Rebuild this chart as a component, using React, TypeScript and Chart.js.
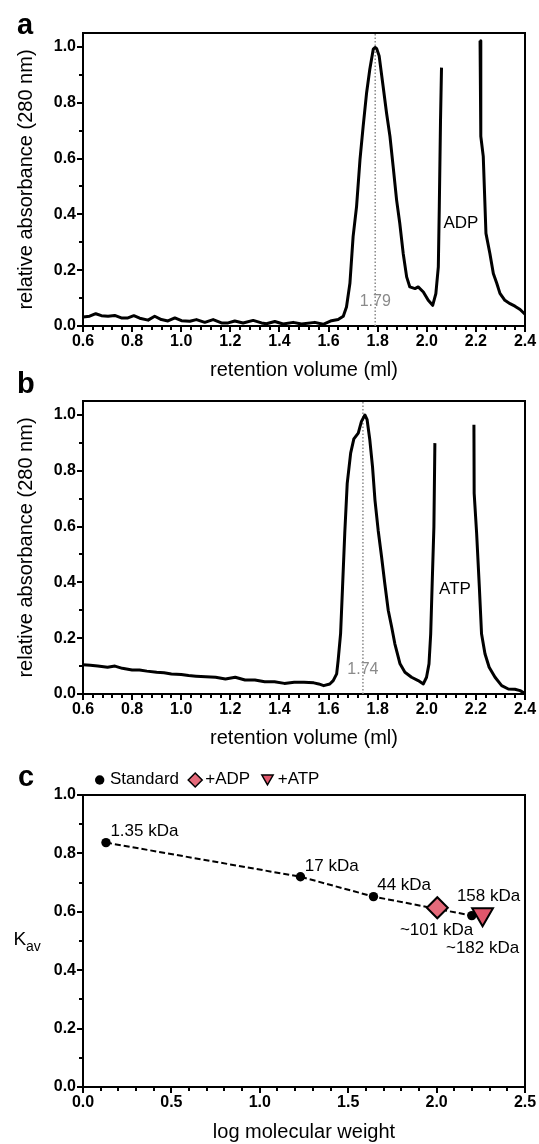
import React, { useEffect, useRef } from "react";
import { Chart, registerables } from "chart.js";

Chart.register(...registerables);

const FONT = "'Liberation Sans', Arial, Helvetica, sans-serif";

// ---------------- Panel a : chromatogram with ADP ----------------
const A_VOLUME = [
  0.6, 0.627, 0.652, 0.675, 0.702, 0.729, 0.756, 0.783, 0.807, 0.831,
  0.865, 0.892, 0.919, 0.946, 0.974, 1.001, 1.035, 1.062, 1.096, 1.13,
  1.164, 1.191, 1.218, 1.252, 1.293, 1.327, 1.347, 1.381, 1.415, 1.456,
  1.49, 1.544, 1.578, 1.612, 1.639, 1.66, 1.673, 1.687, 1.7, 1.714,
  1.728, 1.741, 1.755, 1.768, 1.782, 1.79, 1.796, 1.806, 1.822, 1.836,
  1.85, 1.863, 1.877, 1.89, 1.904, 1.918, 1.931, 1.952, 1.965, 1.986,
  2.006, 2.024, 2.037, 2.047, 2.051, 2.056, 2.06, 2.14, 2.217, 2.22,
  2.23, 2.241, 2.257, 2.271, 2.285, 2.298, 2.318, 2.339, 2.359, 2.38,
  2.4,
];
const A_ABSORBANCE = [
  0.032, 0.035, 0.044, 0.037, 0.035, 0.038, 0.029, 0.029, 0.037, 0.028,
  0.021, 0.035, 0.023, 0.018, 0.029, 0.019, 0.017, 0.023, 0.013, 0.023,
  0.011, 0.011, 0.018, 0.011, 0.02, 0.011, 0.008, 0.016, 0.007, 0.013,
  0.007, 0.013, 0.006, 0.019, 0.023, 0.035, 0.068, 0.153, 0.32, 0.428,
  0.596, 0.716, 0.836, 0.92, 0.992, 0.998, 0.994, 0.968, 0.86, 0.764,
  0.68, 0.572, 0.452, 0.368, 0.26, 0.176, 0.14, 0.134, 0.14, 0.122,
  0.092, 0.074, 0.116, 0.212, 0.428, 0.74, 0.926, null, 1.022, 0.68,
  0.608, 0.332, 0.26, 0.188, 0.153, 0.117, 0.092, 0.08, 0.071, 0.059,
  0.042,
];
const A_PEAK = 1.79;
const A_PEAK_TEXT = "1.79";
const A_NUCLEOTIDE = "ADP";

// ---------------- Panel b : chromatogram with ATP ----------------
const B_VOLUME = [
  0.6, 0.63, 0.66, 0.7, 0.73, 0.76, 0.8, 0.83, 0.86, 0.9,
  0.93, 0.96, 1.0, 1.03, 1.06, 1.1, 1.14, 1.18, 1.22, 1.26,
  1.3, 1.34, 1.38, 1.42, 1.46, 1.5, 1.54, 1.56, 1.58, 1.605,
  1.619, 1.633, 1.639, 1.649, 1.657, 1.666, 1.676, 1.69, 1.703, 1.721,
  1.734, 1.748, 1.757, 1.768, 1.779, 1.789, 1.802, 1.816, 1.829, 1.843,
  1.857, 1.87, 1.891, 1.911, 1.938, 1.965, 1.986, 1.999, 2.009, 2.016,
  2.022, 2.029, 2.033, 2.11, 2.192, 2.193, 2.203, 2.214, 2.223, 2.237,
  2.254, 2.278, 2.305, 2.332, 2.359, 2.38, 2.4,
];
const B_ABSORBANCE = [
  0.105, 0.103, 0.1, 0.096, 0.1, 0.092, 0.086, 0.086, 0.082, 0.078,
  0.076, 0.072, 0.07, 0.066, 0.064, 0.062, 0.06, 0.054, 0.06, 0.05,
  0.05, 0.044, 0.044, 0.038, 0.042, 0.042, 0.04, 0.036, 0.03, 0.036,
  0.048, 0.072, 0.12, 0.216, 0.384, 0.576, 0.755, 0.863, 0.914, 0.935,
  0.977, 1.0, 0.983, 0.911, 0.815, 0.695, 0.587, 0.491, 0.396, 0.3,
  0.24, 0.18, 0.108, 0.078, 0.06, 0.048, 0.036, 0.06, 0.108, 0.216,
  0.396, 0.599, 0.899, null, 0.965, 0.719, 0.576, 0.384, 0.216, 0.144,
  0.096, 0.06, 0.03, 0.018, 0.017, 0.012, 0.002,
];
const B_PEAK = 1.74;
const B_PEAK_TEXT = "1.74";
const B_NUCLEOTIDE = "ATP";

// ---------------- Tick labels ----------------
const VOLUME_TICKS = [0.6, 0.8, 1.0, 1.2, 1.4, 1.6, 1.8, 2.0, 2.2, 2.4];
const ABS_TICKS = [0, 0.2, 0.4, 0.6, 0.8, 1.0];
const LOGMW_TICKS = [0, 0.5, 1.0, 1.5, 2.0, 2.5];
const KAV_TICKS = [0, 0.2, 0.4, 0.6, 0.8, 1.0];

// ---------------- Panel c : calibration ----------------
const STD_NAMES = ["1.35 kDa", "17 kDa", "44 kDa", "158 kDa"];
const STD_LOGMW = [0.13, 1.23, 1.643, 2.199];
const STD_KAV = [0.837, 0.72, 0.652, 0.587];
const ADP_NAMES = ["~101 kDa"];
const ADP_LOGMW = [2.004];
const ADP_KAV = [0.614];
const ATP_NAMES = ["~182 kDa"];
const ATP_LOGMW = [2.26];
const ATP_KAV = [0.592];
const LEGEND_LABELS = ["Standard", "+ADP", "+ATP"];

// ---------------- styling ----------------
const PINK_ADP = "#E56A7A";
const PINK_ATP = "#E0566B";
const GREY = "#8a8a8a";
const W = 539;

function subdivide(ticks: number[], n: number): number[] {
  const out: number[] = [];
  for (let i = 0; i < ticks.length - 1; i++) {
    for (let k = 1; k < n; k++) out.push(ticks[i] + ((ticks[i + 1] - ticks[i]) * k) / n);
  }
  return out;
}

function drawText(ctx: CanvasRenderingContext2D, t: string, x: number, y: number, font: string, color: string, align: CanvasTextAlign, base: CanvasTextBaseline) {
  ctx.save();
  ctx.font = `${font} ${FONT}`;
  ctx.fillStyle = color;
  ctx.textAlign = align;
  ctx.textBaseline = base;
  ctx.fillText(t, x, y);
  ctx.restore();
}

function drawFrameAndMinor(chart: any, minorX: number[], minorY: number[]) {
  const ctx: CanvasRenderingContext2D = chart.ctx;
  const { left, right, top, bottom } = chart.chartArea;
  const xs = chart.scales.x, ys = chart.scales.y;
  ctx.save();
  ctx.strokeStyle = "#000";
  ctx.lineWidth = 2;
  ctx.beginPath();
  ctx.moveTo(left - 1, top);
  ctx.lineTo(right, top);
  ctx.lineTo(right, bottom + 1);
  ctx.stroke();
  ctx.beginPath();
  minorX.forEach((v) => {
    const px = Math.round(xs.getPixelForValue(v));
    ctx.moveTo(px, bottom);
    ctx.lineTo(px, bottom + 4);
  });
  minorY.forEach((v) => {
    const py = Math.round(ys.getPixelForValue(v));
    ctx.moveTo(left, py);
    ctx.lineTo(left - 4, py);
  });
  ctx.stroke();
  ctx.restore();
}

function axisCommon() {
  return {
    grid: { display: true, drawOnChartArea: false, drawTicks: true, tickLength: 6, tickWidth: 2, tickColor: "#000", color: "#000", lineWidth: 2 },
    border: { display: true, color: "#000", width: 2 },
  };
}

const tickFont = { family: FONT, size: 16, weight: "bold" as const };
const fmt = (v: any) => Number(v).toFixed(1);

function buildTrace(canvas: HTMLCanvasElement, vol: number[], abs: (number | null)[], peak: number, peakText: string, nuc: string, nucPos: [number, number], letter: string, letterY: number) {
  const decor = {
    id: "decor",
    afterDraw(chart: any) {
      const ctx = chart.ctx;
      const xs = chart.scales.x, ys = chart.scales.y;
      drawFrameAndMinor(chart, subdivide(VOLUME_TICKS, 5), subdivide(ABS_TICKS, 2));
      drawText(ctx, letter, 17, letterY, "bold 29px", "#000", "left", "alphabetic");
      drawText(ctx, peakText, xs.getPixelForValue(peak), ys.getPixelForValue(0.089), "16px", GREY, "center", "middle");
      drawText(ctx, nuc, xs.getPixelForValue(nucPos[0]), ys.getPixelForValue(nucPos[1]), "17px", "#000", "center", "middle");
    },
  };
  return new Chart(canvas, {
    type: "scatter",
    data: {
      datasets: [
        {
          label: "trace",
          data: vol.map((x, i) => ({ x, y: abs[i] })) as any,
          showLine: true,
          borderColor: "#000",
          borderWidth: 3,
          borderJoinStyle: "round",
          pointRadius: 0,
          pointHoverRadius: 0,
          spanGaps: false,
          order: 0,
        },
        {
          label: "peak",
          data: [{ x: peak, y: 0 }, { x: peak, y: 1.05 }],
          showLine: true,
          borderColor: GREY,
          borderWidth: 1.5,
          borderDash: [1.5, 2],
          pointRadius: 0,
          pointHoverRadius: 0,
          order: 1,
        },
      ],
    },
    options: {
      responsive: false,
      animation: false,
      events: [],
      layout: { padding: { top: 33, right: 14, left: 0, bottom: 0 } },
      plugins: { legend: { display: false }, tooltip: { enabled: false } },
      scales: {
        x: {
          type: "linear",
          min: 0.6,
          max: 2.4,
          afterBuildTicks: (s: any) => { s.ticks = VOLUME_TICKS.map((value) => ({ value })); },
          afterFit: (s: any) => { s.height = 59; },
          ticks: { autoSkip: false, maxRotation: 0, padding: 0, color: "#000", font: tickFont, callback: fmt },
          ...axisCommon(),
          title: { display: true, text: "retention volume (ml)", color: "#000", font: { family: FONT, size: 20 }, padding: { top: 0, bottom: 3 } },
        },
        y: {
          type: "linear",
          min: 0,
          max: 1.05,
          afterBuildTicks: (s: any) => { s.ticks = ABS_TICKS.map((value) => ({ value })); },
          afterFit: (s: any) => { s.width = 83; },
          ticks: { padding: 1, color: "#000", font: tickFont, callback: fmt },
          ...axisCommon(),
          title: { display: true, text: "relative absorbance (280 nm)", color: "#000", font: { family: FONT, size: 20 }, padding: { top: 14, bottom: 0 } },
        },
      },
    } as any,
    plugins: [decor],
  });
}

const LABEL_OFFSETS = {
  std: [[4.4, -11.6], [4.4, -10.8], [3.7, -10.9], [-14.9, -19.7]],
  adp: [[-37.4, 22.2]],
  atp: [[-36.6, 33.7]],
};

function buildCalibration(canvas: HTMLCanvasElement) {
  const decor = {
    id: "decorC",
    afterDraw(chart: any) {
      const ctx: CanvasRenderingContext2D = chart.ctx;
      drawFrameAndMinor(chart, subdivide(LOGMW_TICKS, 5), subdivide(KAV_TICKS, 2));
      drawText(ctx, "c", 18, 33, "bold 29px", "#000", "left", "alphabetic");
      // y axis title K_av
      drawText(ctx, "K", 13.5, 192, "19px", "#000", "left", "alphabetic");
      drawText(ctx, "av", 26, 198, "14px", "#000", "left", "alphabetic");
      // point annotations
      const groups: [number, string[], number[][]][] = [
        [0, STD_NAMES, LABEL_OFFSETS.std],
        [1, ADP_NAMES, LABEL_OFFSETS.adp],
        [2, ATP_NAMES, LABEL_OFFSETS.atp],
      ];
      groups.forEach(([di, names, offs]) => {
        const meta = chart.getDatasetMeta(di);
        names.forEach((n, j) => {
          const el = meta.data[j];
          drawText(ctx, n, el.x + offs[j][0], el.y + offs[j][1], "17px", "#000", "left", "middle");
        });
      });
      // legend
      const ds = chart.data.datasets;
      ctx.save();
      ctx.lineWidth = 1.5;
      ctx.strokeStyle = "#000";
      ctx.fillStyle = ds[0].pointBackgroundColor;
      ctx.beginPath();
      ctx.arc(99.7, 27, 4.7, 0, Math.PI * 2);
      ctx.fill();
      ctx.fillStyle = ds[1].pointBackgroundColor;
      ctx.beginPath();
      ctx.moveTo(195.2 - 7, 27);
      ctx.lineTo(195.2, 20);
      ctx.lineTo(195.2 + 7, 27);
      ctx.lineTo(195.2, 34);
      ctx.closePath();
      ctx.fill();
      ctx.stroke();
      ctx.fillStyle = ds[2].pointBackgroundColor;
      const r = 6.5, cx = 267.5, cy = 25.3;
      ctx.beginPath();
      ctx.moveTo(cx, cy + r);
      ctx.lineTo(cx - r * 0.866, cy - r / 2);
      ctx.lineTo(cx + r * 0.866, cy - r / 2);
      ctx.closePath();
      ctx.fill();
      ctx.stroke();
      ctx.restore();
      drawText(ctx, ds[0].label, 110, 26.6, "17px", "#000", "left", "middle");
      drawText(ctx, ds[1].label, 205.2, 26.6, "17px", "#000", "left", "middle");
      drawText(ctx, ds[2].label, 277.7, 26.6, "17px", "#000", "left", "middle");
    },
  };
  return new Chart(canvas, {
    type: "scatter",
    data: {
      datasets: [
        {
          label: LEGEND_LABELS[0],
          data: STD_LOGMW.map((x, i) => ({ x, y: STD_KAV[i] })),
          showLine: true,
          borderColor: "#000",
          borderWidth: 2,
          borderDash: [6, 3],
          pointRadius: 4.7,
          pointHoverRadius: 4.7,
          pointBackgroundColor: "#000",
          pointBorderColor: "#000",
          pointBorderWidth: 0,
          order: 2,
        },
        {
          label: LEGEND_LABELS[1],
          data: ADP_LOGMW.map((x, i) => ({ x, y: ADP_KAV[i] })),
          pointStyle: "rectRot",
          pointRadius: 10.5,
          pointHoverRadius: 10.5,
          pointBackgroundColor: PINK_ADP,
          backgroundColor: PINK_ADP,
          pointBorderColor: "#000",
          borderColor: "#000",
          pointBorderWidth: 2,
          order: 1,
        },
        {
          label: LEGEND_LABELS[2],
          data: ATP_LOGMW.map((x, i) => ({ x, y: ATP_KAV[i] })),
          pointStyle: "triangle",
          rotation: 180,
          pointRotation: 180,
          pointRadius: 12,
          pointHoverRadius: 12,
          pointBackgroundColor: PINK_ATP,
          backgroundColor: PINK_ATP,
          pointBorderColor: "#000",
          borderColor: "#000",
          pointBorderWidth: 2,
          order: 0,
        },
      ],
    },
    options: {
      responsive: false,
      animation: false,
      events: [],
      layout: { padding: { top: 42, right: 14, left: 0, bottom: 0 } },
      plugins: { legend: { display: false }, tooltip: { enabled: false } },
      scales: {
        x: {
          type: "linear",
          min: 0,
          max: 2.5,
          afterBuildTicks: (s: any) => { s.ticks = LOGMW_TICKS.map((value) => ({ value })); },
          afterFit: (s: any) => { s.height = 57; },
          ticks: { autoSkip: false, maxRotation: 0, padding: 0, color: "#000", font: tickFont, callback: fmt },
          ...axisCommon(),
          title: { display: true, text: "log molecular weight", color: "#000", font: { family: FONT, size: 20 }, padding: { top: 0, bottom: 0 } },
        },
        y: {
          type: "linear",
          min: 0,
          max: 1.0,
          afterBuildTicks: (s: any) => { s.ticks = KAV_TICKS.map((value) => ({ value })); },
          afterFit: (s: any) => { s.width = 83; },
          ticks: { padding: 1, color: "#000", font: tickFont, callback: fmt },
          ...axisCommon(),
          title: { display: false },
        },
      },
    } as any,
    plugins: [decor],
  });
}

function ChartCanvas({ top, height, build }: { top: number; height: number; build: (c: HTMLCanvasElement) => Chart }) {
  const ref = useRef<HTMLCanvasElement>(null);
  useEffect(() => {
    if (!ref.current) return;
    const chart = build(ref.current);
    return () => chart.destroy();
  }, []);
  return (
    <canvas
      ref={ref}
      width={W}
      height={height}
      style={{ position: "absolute", left: 0, top, width: W, height, display: "block" }}
    />
  );
}

export default function App() {
  return (
    <div style={{ position: "absolute", left: 0, top: 0, width: W, height: 1144, background: "#fff", overflow: "hidden" }}>
      <ChartCanvas
        top={0}
        height={385}
        build={(c) => buildTrace(c, A_VOLUME, A_ABSORBANCE, A_PEAK, A_PEAK_TEXT, A_NUCLEOTIDE, [2.139, 0.369], "a", 34)}
      />
      <ChartCanvas
        top={368}
        height={385}
        build={(c) => buildTrace(c, B_VOLUME, B_ABSORBANCE, B_PEAK, B_PEAK_TEXT, B_NUCLEOTIDE, [2.115, 0.375], "b", 25)}
      />
      <ChartCanvas top={753} height={391} build={buildCalibration} />
    </div>
  );
}
